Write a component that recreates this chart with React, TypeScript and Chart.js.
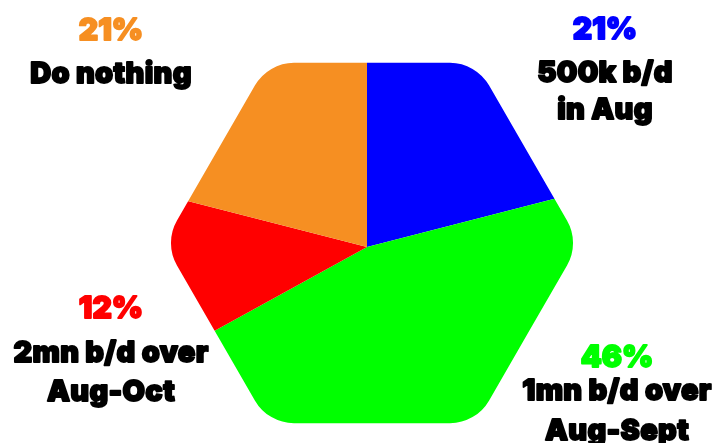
import React, { useEffect, useRef } from "react";
import { Chart, registerables } from "chart.js";

Chart.register(...registerables);

const categories = ["500k b/d|in Aug", "1mn b/d over|Aug-Sept", "2mn b/d over|Aug-Oct", "Do nothing"];
const shares = [21, 46, 12, 21];
const colors = ["#0000FF", "#00FF00", "#FF0000", "#F68F22"];

// label anchors (center x, baseline of percent line, line gaps)
const labelLayout = [
  { x: 605, y: 39, gap1: 43, gap: 37 },
  { x: 617, y: 367, gap1: 33, gap: 40 },
  { x: 111, y: 318, gap1: 44, gap: 39 },
  { x: 111, y: 40, gap1: 43, gap: 37 },
];

const HEX = { cx: 372, cy: 243, R: 208, r: 45 };

const hexClip = {
  id: "hexClip",
  beforeDatasetsDraw(chart: any) {
    const ctx = chart.ctx as CanvasRenderingContext2D;
    const { cx, cy, R, r } = HEX;
    const pts: [number, number][] = [];
    for (let i = 0; i < 6; i++) {
      const a = (Math.PI / 3) * i;
      pts.push([cx + R * Math.cos(a), cy + R * Math.sin(a)]);
    }
    ctx.save();
    ctx.beginPath();
    const m0 = [(pts[0][0] + pts[1][0]) / 2, (pts[0][1] + pts[1][1]) / 2];
    ctx.moveTo(m0[0], m0[1]);
    for (let i = 1; i <= 6; i++) {
      const p = pts[i % 6];
      const n = pts[(i + 1) % 6];
      ctx.arcTo(p[0], p[1], n[0], n[1], r);
    }
    ctx.closePath();
    ctx.clip();
  },
  afterDatasetsDraw(chart: any) {
    chart.ctx.restore();
  },
};

function heavyText(ctx: CanvasRenderingContext2D, t: string, x: number, y: number, color: string) {
  ctx.fillStyle = color;
  ctx.strokeStyle = color;
  ctx.lineWidth = 1.8;
  ctx.lineJoin = "round";
  ctx.strokeText(t, x, y);
  ctx.fillText(t, x, y);
}

const labelPlugin = {
  id: "sliceLabels",
  afterDraw(chart: any) {
    const ctx = chart.ctx as CanvasRenderingContext2D;
    const data = chart.data.datasets[0].data as number[];
    const total = data.reduce((s, v) => s + v, 0);
    ctx.save();
    ctx.textAlign = "center";
    ctx.textBaseline = "alphabetic";
    data.forEach((v, i) => {
      const L = labelLayout[i];
      const pct = Math.round((v / total) * 100) + "%";
      ctx.font = "900 30px Inter";
      (ctx as any).letterSpacing = "0px";
      heavyText(ctx, pct, L.x, L.y, colors[i]);
      ctx.font = "900 29px Inter";
      (ctx as any).letterSpacing = "0.3px";
      const lines = String(chart.data.labels[i]).split("|");
      lines.forEach((ln, j) => {
        heavyText(ctx, ln, L.x, L.y + L.gap1 + j * L.gap, "#000");
      });
    });
    ctx.restore();
  },
};

export default function App() {
  const ref = useRef<HTMLCanvasElement>(null);
  useEffect(() => {
    if (!ref.current) return;
    const chart = new Chart(ref.current, {
      type: "pie",
      data: {
        labels: categories,
        datasets: [
          {
            data: shares,
            backgroundColor: colors,
            borderWidth: 0,
            radius: 250,
          } as any,
        ],
      },
      options: {
        responsive: false,
        animation: false,
        layout: { padding: { left: 17, top: 51, right: 0, bottom: 0 } },
        plugins: { legend: { display: false }, tooltip: { enabled: false } },
      },
      plugins: [hexClip, labelPlugin],
    });
    return () => chart.destroy();
  }, []);
  return (
    <div style={{ position: "fixed", left: 0, top: 0, width: 717, height: 443, background: "#fff" }}>
      <canvas ref={ref} width={717} height={443} style={{ display: "block" }} />
    </div>
  );
}
